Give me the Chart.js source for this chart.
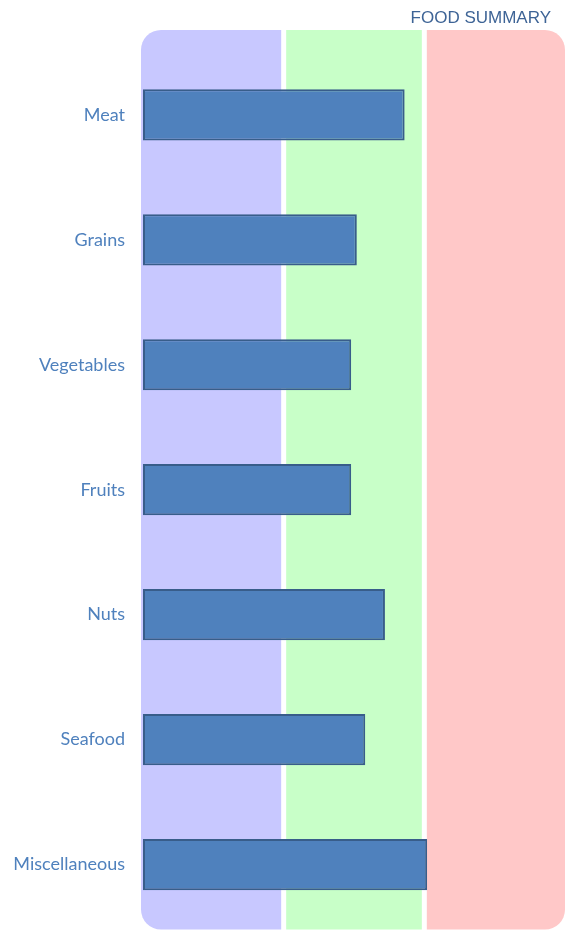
<!DOCTYPE html>
<html>
<head>
<meta charset="utf-8">
<script src="https://cdn.jsdelivr.net/npm/chart.js@4/dist/chart.umd.min.js"></script>
<style>
  html, body { margin: 0; padding: 0; background: #ffffff; overflow: hidden; }
  canvas { display: block; }
</style>
</head>
<body>
<canvas id="c" width="565" height="930" style="width:565px;height:930px;"></canvas>
<script>
// ---- data ----
const categories = ["Meat", "Grains", "Vegetables", "Fruits", "Nuts", "Seafood", "Miscellaneous"];
const values = [93, 76, 74, 74, 86, 79, 101];
const bandStarts = [0, 50, 100];
const bandEnds = [50, 100, 150];
const bandColors = ["#C8C8FF", "#C8FFC8", "#FFC8C8"];
const chartTitle = "FOOD SUMMARY";

function roundRectPath(ctx, x, y, w, h, r) {
  // r: [tl, tr, br, bl]
  ctx.beginPath();
  ctx.moveTo(x + r[0], y);
  ctx.lineTo(x + w - r[1], y);
  ctx.arcTo(x + w, y, x + w, y + r[1], r[1]);
  ctx.lineTo(x + w, y + h - r[2]);
  ctx.arcTo(x + w, y + h, x + w - r[2], y + h, r[2]);
  ctx.lineTo(x + r[3], y + h);
  ctx.arcTo(x, y + h, x, y + h - r[3], r[3]);
  ctx.lineTo(x, y + r[0]);
  ctx.arcTo(x, y, x + r[0], y, r[0]);
  ctx.closePath();
}

const bandsPlugin = {
  id: "bands",
  afterLayout(chart) {
    if (chart.titleBlock) { chart.titleBlock.right -= 14; }
  },
  beforeDatasetsDraw(chart) {
    const ctx = chart.ctx;
    const xs = chart.scales.x;
    const area = chart.chartArea;
    const top = area.top - 22.5;
    const bottom = area.bottom + 2.5;
    const gap = 2.5;
    const n = bandStarts.length;
    ctx.save();
    for (let i = 0; i < n; i++) {
      let x0 = xs.getPixelForValue(bandStarts[i]);
      let x1 = xs.getPixelForValue(bandEnds[i]);
      if (i === 0) { x0 -= 2; } else { x0 += gap; }
      if (i === n - 1) { x1 = chart.width; } else { x1 -= gap; }
      const R = 20;
      const r = [i === 0 ? R : 0, i === n - 1 ? R : 0, i === n - 1 ? R : 0, i === 0 ? R : 0];
      ctx.fillStyle = bandColors[i];
      roundRectPath(ctx, x0, top, x1 - x0, bottom - top, r);
      ctx.fill();
    }
    ctx.restore();
  }
};

new Chart(document.getElementById("c"), {
  type: "bar",
  data: {
    labels: categories,
    datasets: [{
      data: values,
      backgroundColor: "#4F81BD",
      borderColor: "#385D8A",
      borderWidth: 2,
      borderSkipped: false,
      categoryPercentage: 1,
      barPercentage: 0.41
    }]
  },
  options: {
    indexAxis: "y",
    responsive: false,
    maintainAspectRatio: false,
    devicePixelRatio: 1,
    animation: false,
    layout: { padding: { top: 0, right: 0, bottom: 3, left: 0 } },
    plugins: {
      legend: { display: false },
      tooltip: { enabled: false },
      title: {
        display: true,
        text: chartTitle,
        align: "end",
        color: "#3E6496",
        font: { family: "'Liberation Sans', Arial, sans-serif", size: 17, weight: "normal" },
        padding: { top: 8, bottom: 24 }
      }
    },
    scales: {
      x: {
        display: false,
        min: 0,
        max: 150
      },
      y: {
        grid: { display: false, drawTicks: false },
        border: { display: false },
        ticks: {
          color: "#4F81BD",
          padding: 18,
          font: { family: "Lato, 'Open Sans', sans-serif", size: 18 }
        },
        afterFit(scale) {
          scale.width = 143;
          scale.paddingTop = 0;
          scale.paddingBottom = 0;
        }
      }
    }
  },
  plugins: [bandsPlugin]
});
</script>
</body>
</html>
